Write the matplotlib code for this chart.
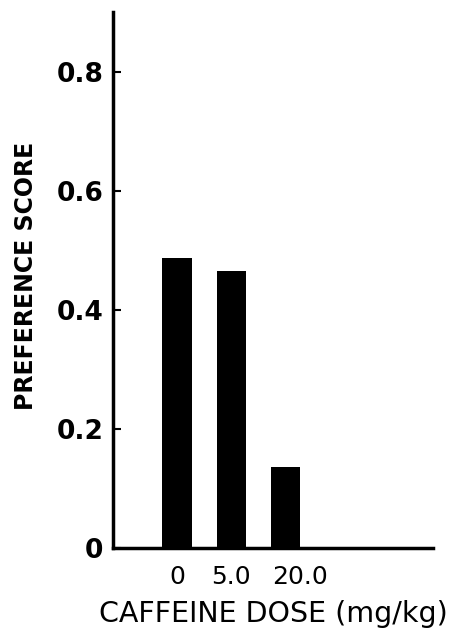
import matplotlib.pyplot as plt
from matplotlib.transforms import ScaledTranslation

# data
doses = ['0', '5.0', '20.0']
scores = [0.487, 0.466, 0.136]
yticks = [0, 0.2, 0.4, 0.6, 0.8]
ytick_labels = ['0', '0.2', '0.4', '0.6', '0.8']

fig = plt.figure(figsize=(4.49, 6.3), dpi=100)
ax = fig.add_axes([0.2517, 0.130, 0.7127, 0.851])

pos = list(range(len(doses)))
ax.bar(pos, scores, width=0.55, color='black')

ax.set_xlim(-1.19, 4.73)
ax.set_ylim(0, 0.9)

ax.spines['top'].set_visible(False)
ax.spines['right'].set_visible(False)
ax.spines['left'].set_linewidth(2.5)
ax.spines['bottom'].set_linewidth(2.5)

ax.set_yticks(yticks)
ax.set_yticklabels(ytick_labels, fontsize=19, fontweight='bold')
ax.tick_params(axis='y', direction='in', length=6, width=1.5, pad=7)

ax.set_xticks(pos)
ax.set_xticklabels(doses, fontsize=18)
ax.tick_params(axis='x', length=0, pad=12)
# the 20.0 label sits a bit right of its bar in the original
lbl = ax.get_xticklabels()[2]
lbl.set_transform(lbl.get_transform() + ScaledTranslation(15 / 100, 0, fig.dpi_scale_trans))

ax.set_ylabel('PREFERENCE SCORE', fontsize=17, fontweight='bold')
ax.yaxis.set_label_coords(-0.235, 0.507)
ax.set_xlabel('CAFFEINE DOSE (mg/kg)', fontsize=20.5, labelpad=8)

fig.savefig('out.png', dpi=100)
